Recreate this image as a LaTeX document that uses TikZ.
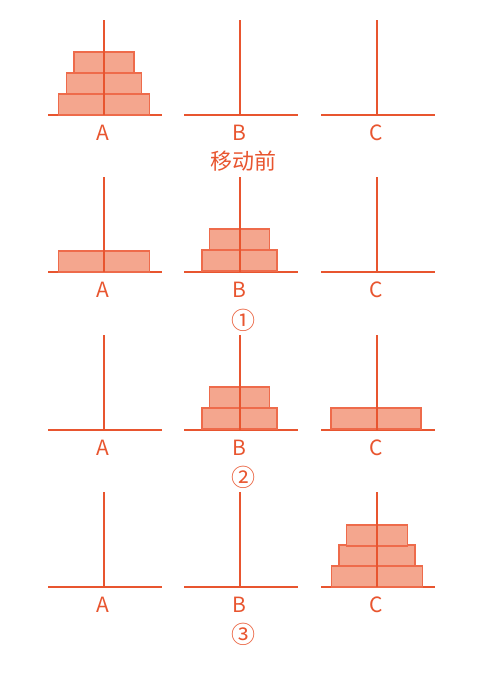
\documentclass[tikz,border=0pt]{standalone}
\usepackage{fontspec}
\setmainfont{Noto Sans CJK SC}
\definecolor{pegline}{HTML}{E8552F}
\definecolor{diskfill}{HTML}{F4A68E}
\definecolor{diskedge}{HTML}{EE6B4B}
\tikzset{
  poleline/.style={draw=pegline, line width=1.1pt},
  groundline/.style={draw=pegline, line width=1.1pt},
  diskbox/.style={draw=diskedge, fill=diskfill, line width=1.1pt},
  lbl/.style={text=pegline, font=\fontsize{21}{21}\selectfont, inner sep=0pt, anchor=center},
  captxt/.style={text=pegline, font=\fontsize{22}{22}\selectfont, inner sep=0pt, anchor=center}
}
\newcommand\pegbase[2]{\draw[groundline] (#1-56,#2) -- (#1+58,#2);}
\newcommand\pegpole[2]{\draw[poleline] (#1,#2-95) -- (#1,#2);}
\newcommand\hdisk[3]{\draw[diskbox] (#1-#3,#2-21) rectangle (#1+#3,#2);}
\begin{document}
\begin{tikzpicture}[x=1pt,y=-1pt]
\useasboundingbox (0,0) rectangle (489,673);
\foreach \b in {115,272,430,587}{
  \pegbase{104}{\b}\pegbase{240}{\b}\pegbase{377}{\b}
}
% row 0
\hdisk{104}{115}{45.5}\hdisk{104}{94}{37.5}\hdisk{104}{73}{30}
% row 1
\hdisk{104}{272}{45.5}
\hdisk{239.5}{271}{37.5}\hdisk{239.5}{250}{30}
% row 2
\hdisk{239.5}{429}{37.5}\hdisk{239.5}{408}{30}
\hdisk{376}{429}{45}
% row 3
\hdisk{377}{587}{45.5}\hdisk{377}{566}{38}\hdisk{377}{546}{30.5}
% poles
\foreach \b in {115,272,430,587}{
  \pegpole{104}{\b}\pegpole{240}{\b}\pegpole{377}{\b}
}
% labels
\foreach \b/\n in {115/0,272/1,430/2,587/3}{
  \node[lbl] (A\n) at (103,\b+18) {A};
  \node[lbl] (B\n) at (239,\b+18) {B};
  \node[lbl] (C\n) at (376,\b+18) {C};
}
\node[captxt] (t0) at (243,161) {移动前};
\node[captxt, font=\fontsize{24}{24}\selectfont] (t1) at (243,320) {①};
\node[captxt, font=\fontsize{24}{24}\selectfont] (t2) at (243,477) {②};
\node[captxt, font=\fontsize{24}{24}\selectfont] (t3) at (243,634) {③};
\end{tikzpicture}
\end{document}
